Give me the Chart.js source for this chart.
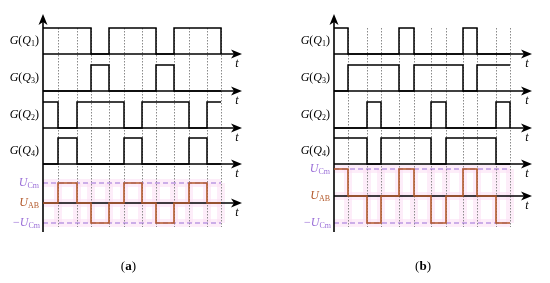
<!DOCTYPE html>
<html>
<head>
<meta charset="utf-8">
<script src="https://cdn.jsdelivr.net/npm/chart.js@4/dist/chart.umd.min.js"></script>
<style>
  html, body { margin: 0; padding: 0; background: #fff; }
  #wrap { display: flex; width: 550px; height: 283px; }
  canvas { display: block; }
</style>
</head>
<body>
<div id="wrap">
  <canvas id="chartA" width="275" height="283"></canvas>
  <canvas id="chartB" width="275" height="283"></canvas>
</div>
<script>
// switching instants (one per dotted line), arbitrary time units
const timeA = [0, 1.5, 3.4, 4.8, 6.6, 8.1, 9.9, 11.3, 13.1, 14.6, 16.4, 17.8];
const timeB = [0, 1.4, 3.3, 4.7, 6.5, 8.0, 9.7, 11.2, 12.9, 14.3, 16.2, 17.6];

// level held from each instant on (last entry = level at the end)
const q1A  = [1, 1, 1, 0, 1, 1, 1, 0, 1, 1, 1, 0];
const q3A  = [0, 0, 0, 1, 0, 0, 0, 1, 0, 0, 0, 0];
const q2A  = [1, 0, 1, 1, 1, 0, 1, 1, 1, 0, 1, 1];
const q4A  = [0, 1, 0, 0, 0, 1, 0, 0, 0, 1, 0, 0];
const uabA = [0, 1, 0, -1, 0, 1, 0, -1, 0, 1, 0, 0];

const q1B  = [1, 0, 0, 0, 1, 0, 0, 0, 1, 0, 0, 0];
const q3B  = [0, 1, 1, 1, 0, 1, 1, 1, 0, 1, 1, 1];
const q2B  = [0, 0, 1, 0, 0, 0, 1, 0, 0, 0, 1, 0];
const q4B  = [1, 1, 0, 1, 1, 1, 0, 1, 1, 1, 0, 0];
const uabB = [1, 0, -1, 0, 1, 0, -1, 0, 1, 0, -1, -1];

const gateSubs = ['1', '3', '2', '4'];

// row placement (y units from the bottom of the vertical axis)
const layoutA = { left: 43, right: 33, xMax: 19.9, bases: [178, 141, 104, 68], gateH: 26, zero: 29, amp: 20, capX: 127, caption: 'a' };
const layoutB = { left: 59, right: 18, xMax: 19.8, bases: [178, 141, 104, 68], gateH: 26, zero: 36, amp: 27, capX: 147, caption: 'b' };

const SERIF = '"Liberation Serif", "DejaVu Serif", serif';
const PURPLE = '#9b70d8';
const BROWN = '#b35a2c';

function stepData(times, levels, base, h) {
  return times.map((t, i) => ({ x: t, y: base + levels[i] * h }));
}

// draws text pieces [{t, f, dy}] so that it ends at xr, centred on y
function richText(ctx, parts, xr, y, color) {
  let w = 0;
  parts.forEach(p => { ctx.font = p.f; w += ctx.measureText(p.t).width; });
  let x = xr - w;
  ctx.fillStyle = color;
  ctx.textBaseline = 'middle';
  ctx.textAlign = 'left';
  parts.forEach(p => {
    ctx.font = p.f;
    ctx.fillText(p.t, x, y + (p.dy || 0));
    x += ctx.measureText(p.t).width;
  });
}

function arrowRight(ctx, x0, x1, y) {
  ctx.beginPath(); ctx.moveTo(x0, y); ctx.lineTo(x1 - 8, y); ctx.stroke();
  ctx.beginPath(); ctx.moveTo(x1, y); ctx.lineTo(x1 - 11, y - 4.5); ctx.lineTo(x1 - 8, y); ctx.lineTo(x1 - 11, y + 4.5); ctx.closePath(); ctx.fill();
}

const decor = {
  id: 'decor',
  beforeDatasetsDraw(chart, args, o) {
    const { ctx, chartArea: ca, scales: { x, y } } = chart;
    const L = o.layout, times = o.times;
    const ax = x.getPixelForValue(0);
    const xEnd = x.getPixelForValue(times[times.length - 1]);
    const yTop = y.getPixelForValue(L.bases[0] + L.gateH);
    const yHi = y.getPixelForValue(L.zero + L.amp);
    const y0 = y.getPixelForValue(L.zero);
    const yLo = y.getPixelForValue(L.zero - L.amp);
    ctx.save();

    // pale pink wash in the output voltage band
    ctx.strokeStyle = 'rgba(252,222,244,0.55)';
    ctx.lineWidth = 8;
    [yHi, y0, yLo].forEach(yy => { ctx.beginPath(); ctx.moveTo(ax, yy); ctx.lineTo(xEnd, yy); ctx.stroke(); });
    times.slice(1).forEach(t => {
      const px = x.getPixelForValue(t);
      ctx.beginPath(); ctx.moveTo(px, yHi); ctx.lineTo(px, yLo); ctx.stroke();
    });

    // dotted switching instants
    ctx.strokeStyle = '#8a8a8a';
    ctx.lineWidth = 1;
    ctx.setLineDash([1.5, 1.5]);
    times.slice(1).forEach(t => {
      const px = Math.round(x.getPixelForValue(t)) + 0.5;
      ctx.beginPath(); ctx.moveTo(px, yTop); ctx.lineTo(px, yLo + 4); ctx.stroke();
    });

    // +/- U_Cm dashed levels
    ctx.strokeStyle = PURPLE;
    ctx.lineWidth = 1.2;
    ctx.setLineDash([5, 3]);
    [yHi, yLo].forEach(yy => { ctx.beginPath(); ctx.moveTo(ax, yy); ctx.lineTo(xEnd, yy); ctx.stroke(); });
    ctx.setLineDash([]);

    // axes
    ctx.strokeStyle = '#000';
    ctx.fillStyle = '#000';
    ctx.lineWidth = 1.6;
    ctx.beginPath(); ctx.moveTo(ax, ca.bottom); ctx.lineTo(ax, ca.top + 8); ctx.stroke();
    ctx.beginPath(); ctx.moveTo(ax, ca.top); ctx.lineTo(ax - 4.5, ca.top + 11); ctx.lineTo(ax, ca.top + 8); ctx.lineTo(ax + 4.5, ca.top + 11); ctx.closePath(); ctx.fill();
    L.bases.concat([L.zero]).forEach(b => arrowRight(ctx, ax, ca.right, y.getPixelForValue(b)));
    ctx.restore();
  },
  afterDatasetsDraw(chart, args, o) {
    const { ctx, chartArea: ca, scales: { x, y } } = chart;
    const L = o.layout;
    const ax = x.getPixelForValue(0);
    ctx.save();
    const it = 'italic 12px ' + SERIF, up = '12px ' + SERIF, sub = '8px ' + SERIF;
    L.bases.forEach((b, i) => {
      const yy = y.getPixelForValue(b + L.gateH / 2);
      richText(ctx, [{ t: 'G', f: it }, { t: '(', f: up }, { t: 'Q', f: it }, { t: gateSubs[i], f: sub, dy: 3 }, { t: ')', f: up }], ax - 4, yy, '#000');
    });
    richText(ctx, [{ t: 'U', f: it }, { t: 'Cm', f: sub, dy: 3 }], ax - 4, y.getPixelForValue(L.zero + L.amp), PURPLE);
    richText(ctx, [{ t: 'U', f: it }, { t: 'AB', f: sub, dy: 3 }], ax - 4, y.getPixelForValue(L.zero), BROWN);
    richText(ctx, [{ t: '\u2212', f: up }, { t: 'U', f: it }, { t: 'Cm', f: sub, dy: 3 }], ax - 3, y.getPixelForValue(L.zero - L.amp), PURPLE);

    ctx.fillStyle = '#000';
    ctx.font = it;
    ctx.textAlign = 'center';
    ctx.textBaseline = 'middle';
    L.bases.concat([L.zero]).forEach(b => ctx.fillText('t', ca.right - 5, y.getPixelForValue(b) + 10));

    richText(ctx, [{ t: '(', f: '13px ' + SERIF }, { t: L.caption, f: 'bold 13px ' + SERIF }, { t: ')', f: '13px ' + SERIF }], L.capX + 9, 267, '#000');
    ctx.restore();
  }
};

function addPanel(id, times, gates, uab, L) {
  const datasets = gates.map((lv, i) => ({
    data: stepData(times, lv, L.bases[i], L.gateH),
    borderColor: '#000',
    borderWidth: 1.5
  }));
  datasets.push({
    data: stepData(times, uab, L.zero, L.amp),
    borderColor: BROWN,
    borderWidth: 1.6
  });
  datasets.forEach(d => { d.stepped = true; d.pointRadius = 0; d.fill = false; d.clip = false; });

  new Chart(document.getElementById(id), {
    type: 'line',
    data: { datasets: datasets },
    options: {
      responsive: false,
      devicePixelRatio: 1,
      animation: false,
      events: [],
      layout: { padding: { left: L.left, right: L.right, top: 14, bottom: 51 } },
      scales: {
        x: { type: 'linear', min: 0, max: L.xMax, display: false },
        y: { type: 'linear', min: 0, max: 218, display: false }
      },
      plugins: {
        legend: { display: false },
        tooltip: { enabled: false },
        decor: { layout: L, times: times }
      }
    },
    plugins: [decor]
  });
}

addPanel('chartA', timeA, [q1A, q3A, q2A, q4A], uabA, layoutA);
addPanel('chartB', timeB, [q1B, q3B, q2B, q4B], uabB, layoutB);
</script>
</body>
</html>
